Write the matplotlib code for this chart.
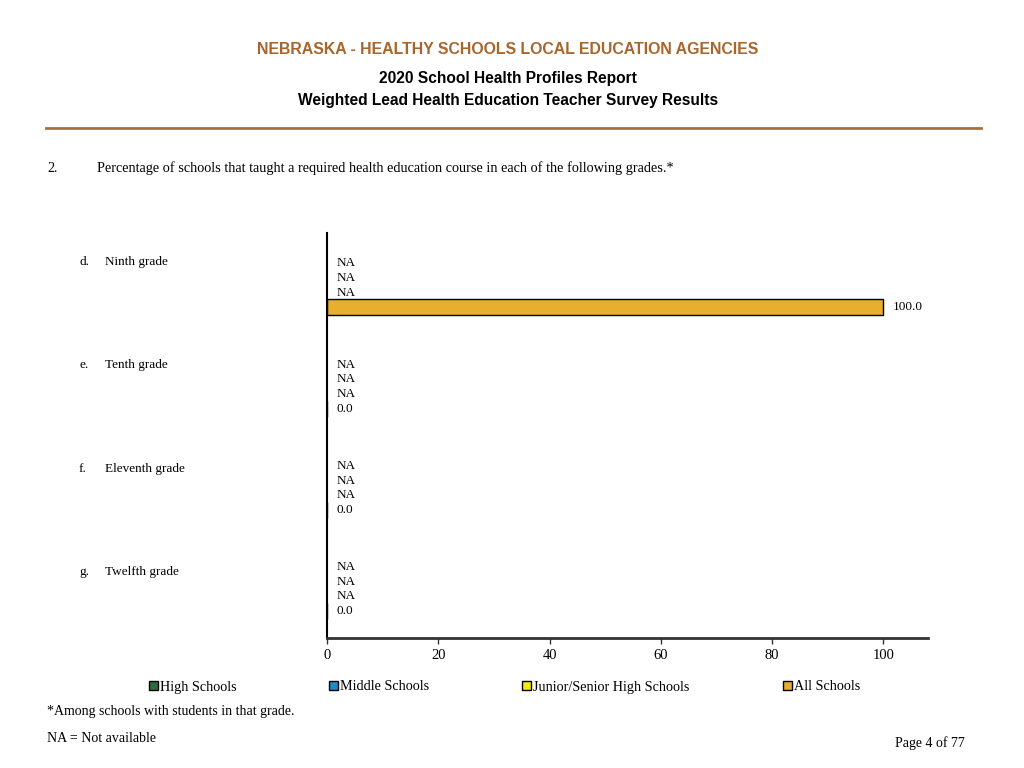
import matplotlib.pyplot as plt
from matplotlib.patches import Rectangle

plt.rcParams['font.family'] = ['Liberation Serif', 'DejaVu Serif']

# data
letters = ["d.", "e.", "f.", "g."]
grades = ["Ninth grade", "Tenth grade", "Eleventh grade", "Twelfth grade"]
series = ["High Schools", "Middle Schools", "Junior/Senior High Schools", "All Schools"]
colors = ["#2e6b3c", "#1b8cc4", "#f2ec10", "#e8ae30"]
# None = NA
values = [
    [None, None, None, 100.0],
    [None, None, None, 0.0],
    [None, None, None, 0.0],
    [None, None, None, 0.0],
]
xticks = [0, 20, 40, 60, 80, 100]

fig = plt.figure(figsize=(10.24, 7.68), dpi=100)
W, H = 1024, 768


def fx(px):
    return px / W


def fy(py):
    return 1 - py / H


# header
fig.text(fx(508), fy(50), "NEBRASKA - HEALTHY SCHOOLS LOCAL EDUCATION AGENCIES",
         ha="center", va="center", fontsize=11.4, fontweight="bold",
         color="#a8652c", family="Liberation Sans")
fig.text(fx(508), fy(78), "2020 School Health Profiles Report", ha="center", va="center",
         fontsize=11.2, fontweight="bold", family="Liberation Sans")
fig.text(fx(508), fy(100), "Weighted Lead Health Education Teacher Survey Results",
         ha="center", va="center", fontsize=11.2, fontweight="bold", family="Liberation Sans")
fig.add_artist(plt.Line2D([fx(46), fx(981)], [fy(128), fy(128)], color="#a8703c", lw=2))

fig.text(fx(47), fy(168), "2.", ha="left", va="center", fontsize=10.2)
fig.text(fx(97), fy(168),
         "Percentage of schools that taught a required health education course in each of the following grades.*",
         ha="left", va="center", fontsize=10.25)

# chart area
ax = fig.add_axes([fx(327), fy(638), fx(928) - fx(327), (638 - 233) / H])
ax.set_xlim(0, 108)
ax.set_ylim(638, 233)

group_gap = 101.2
row_gap = 14.6
first_row = 263.5

for i, grade in enumerate(grades):
    for j, v in enumerate(values[i]):
        y = first_row + i * group_gap + j * row_gap
        if v is None:
            ax.text(1.7, y, "NA", ha="left", va="center", fontsize=9.5)
        else:
            ax.barh(y, v, height=16, color=colors[j], edgecolor="black", linewidth=1)
            ax.text(v + 1.7, y, f"{v:.1f}", ha="left", va="center", fontsize=9.5)
    ylab = fy(261.5 + i * 103.6)
    fig.text(fx(79), ylab, letters[i], ha="left", va="center", fontsize=9.5)
    fig.text(fx(105), ylab, grade, ha="left", va="center", fontsize=9.5)

ax.set_xticks(xticks)
ax.set_xticklabels([str(t) for t in xticks], fontsize=10.5)
ax.tick_params(axis="x", length=4, width=1, pad=4, color="#333333")
ax.set_yticks([])
for s in ["top", "right"]:
    ax.spines[s].set_visible(False)
ax.spines["bottom"].set_linewidth(2)
ax.spines["bottom"].set_color("#333333")
ax.spines["left"].set_linewidth(1.5)

# legend
leg_x = [149, 329, 522, 783]
for k, name in enumerate(series):
    fig.add_artist(Rectangle((fx(leg_x[k]), fy(690)), fx(9), 9 / H, facecolor=colors[k],
                             edgecolor="black", linewidth=1))
    fig.text(fx(leg_x[k] + 11), fy(690.5), name, ha="left", va="baseline", fontsize=10.2)

# footnotes
fig.text(fx(47), fy(712), "*Among schools with students in that grade.", ha="left", va="center", fontsize=10)
fig.text(fx(47), fy(739), "NA = Not available", ha="left", va="center", fontsize=10)
fig.text(fx(965), fy(743), "Page 4 of 77", ha="right", va="center", fontsize=10)

fig.savefig("out.png", dpi=100)
